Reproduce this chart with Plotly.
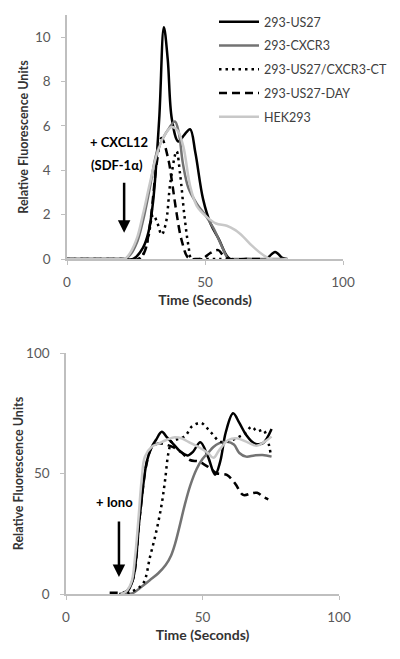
import plotly.graph_objects as go

# ---------------- Top panel data (CXCL12 stimulation) ----------------
top_us27_x = [0, 20, 24, 27.5, 29.5, 31.2, 33.4, 35.1, 36.5, 38, 40.3, 42.5, 44.6, 46.5, 49.3, 52, 55, 59, 65, 72, 75.4, 78, 79.7]
top_us27_y = [0, 0, 0, 0.5, 1.2, 2.6, 6.3, 10.45, 9.0, 6.3, 5.3, 5.6, 5.85, 4.8, 2.7, 1.6, 0.9, 0, 0, 0, 0.32, 0.05, 0]

top_cxcr3_x = [0, 20, 21, 23, 25.5, 27.6, 30, 32.5, 35, 37, 39.1, 40.5, 42, 44, 47, 50, 53, 56, 58.5, 60, 70, 80]
top_cxcr3_y = [0, 0, 0, 0.2, 0.8, 1.76, 3.2, 4.8, 5.5, 5.9, 6.2, 5.7, 4.3, 3.2, 2.5, 2.0, 1.4, 0.6, 0, 0, 0, 0]

top_ct_x = [0, 20, 26, 28, 29.5, 31.2, 32.8, 34.3, 35.8, 37.5, 39.7, 41, 42.5, 44, 45.2, 50, 55, 60]
top_ct_y = [0, 0, 0, 0.3, 1.0, 2.0, 1.6, 1.1, 1.6, 3.5, 4.86, 3.8, 2.0, 0.6, 0, 0, 0, 0]

top_day_x = [0, 20, 26, 28, 30, 32.5, 34.3, 36.7, 37.9, 39.7, 41.5, 44, 47, 49.5, 51.8, 54.8, 56.5, 59, 65, 70]
top_day_y = [0, 0, 0, 0.3, 1.5, 4.3, 5.46, 4.5, 3.6, 2.07, 0.86, 0.05, 0, 0.05, 0.26, 0.4, 0.18, 0, 0, 0]

top_hek_x = [0, 20, 21, 23, 25.5, 27.5, 30, 32.5, 35, 37.9, 40, 42.1, 44.6, 47, 50.6, 54, 57.9, 61, 63.9, 67, 71.1, 73.6, 80]
top_hek_y = [0, 0, 0, 0.3, 1.0, 2.0, 3.4, 4.7, 5.5, 5.95, 5.8, 5.1, 3.3, 2.4, 1.9, 1.6, 1.5, 1.3, 1.0, 0.6, 0.18, 0, 0]

# ---------------- Bottom panel data (Ionomycin) ----------------
bot_us27_x = [19.5, 22, 24.5, 27, 29.6, 31.4, 33, 35.1, 37, 39.5, 42, 44.5, 46.5, 49.2, 52, 54.6, 56.5, 58.5, 61.2, 63.5, 66, 69, 72, 75.3]
bot_us27_y = [0, 0.5, 6, 32, 55, 61, 64, 67.3, 65, 62, 59, 57.5, 59, 63, 57, 49.5, 55, 67, 75, 71, 66, 62.5, 62.5, 68.5]

bot_cxcr3_x = [20, 22, 24.5, 27, 30.8, 33.8, 36.5, 38.5, 40, 41.8, 43.5, 45.5, 47.9, 50, 52, 54, 56, 59, 61.5, 63.5, 66, 69, 72, 75.3]
bot_cxcr3_y = [0, 0, 0.4, 2.4, 5.8, 8.6, 12, 16, 21, 29, 37, 45, 52, 56, 58.5, 61, 62.5, 63.2, 62, 58.5, 57, 57.5, 57.7, 57]

bot_ct_x = [20, 23, 25, 28.3, 30.8, 33.2, 35.1, 36.3, 37.5, 38.7, 39.9, 42, 44, 46, 49.4, 51.5, 53.4, 56.4, 60, 63, 65.6, 68, 70, 72.3, 75]
bot_ct_y = [0, 0.5, 1.5, 4.4, 15.5, 26.6, 37.6, 47.3, 58.4, 63.2, 64, 64.5, 66, 69.4, 71, 69, 66.7, 63.2, 63.6, 65, 66.7, 69.4, 67.5, 68, 58]

bot_day_x = [16, 18, 20, 22, 24.5, 27, 29.5, 31.5, 34, 36.5, 39, 42, 45.4, 48.5, 51, 53, 55.2, 58.9, 61.9, 64.9, 68, 70, 72, 74.1]
bot_day_y = [0.5, 0.5, 0.5, 1, 6, 32, 54, 61, 62.5, 62, 61, 59, 55.6, 55, 53.5, 52, 50.1, 49.4, 45.9, 41.1, 41.8, 42, 40.5, 39.3]

bot_hek_x = [20, 22, 24, 25.3, 26.5, 27.7, 28.9, 31.4, 34, 37, 39.9, 42.5, 45, 48.5, 52, 54, 56, 59.5, 62.5, 66, 69.8, 72.5, 75.3]
bot_hek_y = [0, 1, 5, 15.5, 30.7, 47.3, 57, 61.1, 62.5, 64, 65, 64.5, 63, 61, 58.5, 56.5, 59.5, 63.9, 64.6, 63.2, 61.5, 63, 65.3]

series_names = ["293-US27", "293-CXCR3", "293-US27/CXCR3-CT", "293-US27-DAY", "HEK293"]
series_colors = ["#000000", "#737373", "#000000", "#000000", "#c8c8c8"]
series_dash = ["solid", "solid", "2.5px,4px", "8px,5px", "solid"]

top_data = [(top_us27_x, top_us27_y), (top_cxcr3_x, top_cxcr3_y), (top_ct_x, top_ct_y),
            (top_day_x, top_day_y), (top_hek_x, top_hek_y)]
bot_data = [(bot_us27_x, bot_us27_y), (bot_cxcr3_x, bot_cxcr3_y), (bot_ct_x, bot_ct_y),
            (bot_day_x, bot_day_y), (bot_hek_x, bot_hek_y)]

x_ticks = [0, 50, 100]
top_y_ticks = [0, 2, 4, 6, 8, 10]
bot_y_ticks = [0, 50, 100]

FONT = "Lato"
fig = go.Figure()

for i, name in enumerate(series_names):
    xs, ys = top_data[i]
    fig.add_trace(go.Scatter(
        x=xs, y=ys, mode="lines", name=name, legendgroup=name,
        line=dict(color=series_colors[i], width=2.5, dash=series_dash[i], shape="spline", smoothing=1),
        xaxis="x", yaxis="y", showlegend=True))
for i, name in enumerate(series_names):
    xs, ys = bot_data[i]
    fig.add_trace(go.Scatter(
        x=xs, y=ys, mode="lines", name=name, legendgroup=name,
        line=dict(color=series_colors[i], width=2.5, dash=series_dash[i], shape="spline", smoothing=1),
        xaxis="x2", yaxis="y2", showlegend=False))

axis_common = dict(showline=True, linecolor="#bfbfbf", linewidth=1.5, ticks="outside", ticklen=4,
                   tickcolor="#bfbfbf", tickwidth=1, showgrid=False, zeroline=False,
                   tickfont=dict(family=FONT, size=13.5, color="#595959"))
ytitle_font = dict(family=FONT, size=12.5, color="#333333")
xtitle_font = dict(family=FONT, size=14, color="#333333")

L, R, T, B = 66, 57, 15, 65
W, H = 400, 659
pw, ph = W - L - R, H - T - B

def fx(px):
    return (px - L) / pw

def fy(py):
    return (H - B - py) / ph

fig.update_layout(
    width=W, height=H, margin=dict(l=L, r=R, t=T, b=B, autoexpand=False),
    paper_bgcolor="white", plot_bgcolor="white",
    font=dict(family=FONT),
    xaxis=dict(axis_common, domain=[fx(67), fx(343)], range=[0, 100], tickvals=x_ticks, anchor="y",
               ticklabelstandoff=6,
               title=dict(text="<b>Time (Seconds)</b>", font=xtitle_font, standoff=6)),
    yaxis=dict(axis_common, domain=[fy(259), fy(15)], range=[0, 11], tickvals=top_y_ticks, anchor="x",
               ticklabelstandoff=8,
               title=dict(text="<b>Relative Fluorescence Units</b>", font=ytitle_font, standoff=4)),
    xaxis2=dict(axis_common, domain=[fx(66), fx(339)], range=[0, 100], tickvals=x_ticks, anchor="y2",
                ticklabelstandoff=6,
                title=dict(text="<b>Time (Seconds)</b>", font=xtitle_font, standoff=6)),
    yaxis2=dict(axis_common, domain=[fy(594), fy(353)], range=[0, 100], tickvals=bot_y_ticks, anchor="x2",
                ticklabelstandoff=8,
                title=dict(text="<b>Relative Fluorescence Units</b>", font=ytitle_font, standoff=0)),
    legend=dict(x=fx(214), y=fy(7), xanchor="left", yanchor="top", traceorder="grouped",
                tracegroupgap=4.5, itemwidth=40, bgcolor="rgba(0,0,0,0)",
                font=dict(family=FONT, size=12.5, color="#404040")),
    showlegend=True,
)

ann_font = dict(family=FONT, size=13, color="#000000")
fig.add_annotation(x=18.8, y=5.29, xref="x", yref="y", text="<b>+ CXCL12</b>", showarrow=False, font=ann_font)
fig.add_annotation(x=18.1, y=4.25, xref="x", yref="y", text="<b>(SDF-1\u03b1)</b>", showarrow=False, font=ann_font)
fig.add_annotation(x=20.7, y=1.18, xref="x", yref="y", ax=20.7, ay=3.5, axref="x", ayref="y",
                   text="", showarrow=True, arrowhead=2, arrowsize=1, arrowwidth=2.5, arrowcolor="#000000")
fig.add_annotation(x=17.6, y=38.2, xref="x2", yref="y2", text="<b>+ Iono</b>", showarrow=False, font=ann_font)
fig.add_annotation(x=19.4, y=7.05, xref="x2", yref="y2", ax=19.4, ay=30.7, axref="x2", ayref="y2",
                   text="", showarrow=True, arrowhead=2, arrowsize=1, arrowwidth=2.5, arrowcolor="#000000")

fig.write_html("out.html", config={"displayModeBar": False},
               post_script="document.body.style.margin='0';document.body.style.overflow='hidden';")
